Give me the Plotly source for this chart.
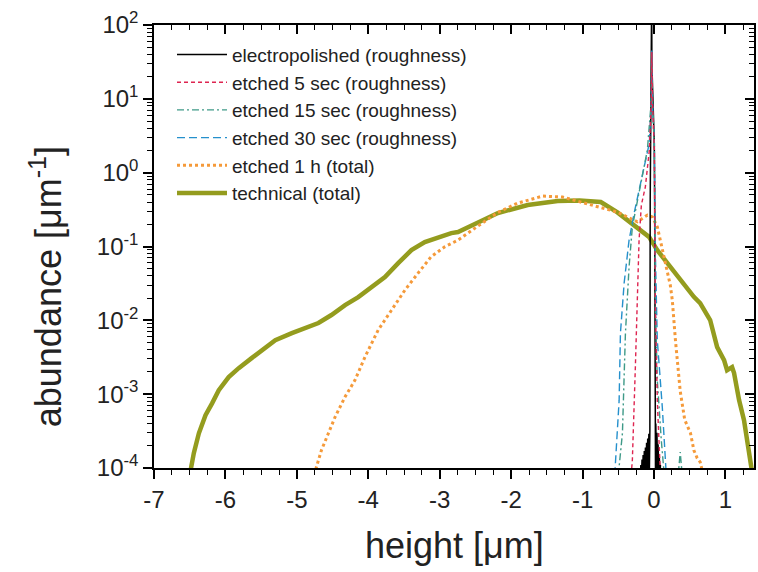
import plotly.graph_objects as go

# ---- height distributions (height in µm, abundance in 1/µm) ----
tech_x = [-6.50, -6.442, -6.372, -6.279, -6.187, -6.093, -5.954, -5.814, -5.633, -5.442,
          -5.302, -5.070, -4.883, -4.698, -4.516, -4.325, -4.140, -3.954, -3.767, -3.581,
          -3.396, -3.209, -3.023, -2.838, -2.744, -2.465, -2.186, -1.768, -1.349, -1.042,
          -0.745, -0.512, -0.275, -0.070, 0.046, 0.186, 0.367, 0.558, 0.646, 0.786, 0.884,
          0.981, 1.023, 1.093, 1.121, 1.191, 1.260, 1.302, 1.344, 1.38]
tech_y = [8e-5, 1.6e-4, 2.95e-4, 5.2e-4, 7.5e-4, 1.13e-3, 1.7e-3, 2.25e-3, 3.08e-3, 4.3e-3,
          5.4e-3, 6.7e-3, 7.8e-3, 9.2e-3, 0.0118, 0.0161, 0.0206, 0.0282, 0.0385, 0.0596,
          0.0893, 0.115, 0.134, 0.152, 0.157, 0.214, 0.284, 0.364, 0.412, 0.420,
          0.400, 0.290, 0.190, 0.135, 0.089, 0.0596, 0.035, 0.0208, 0.0171, 0.0101, 0.00433,
          0.00289, 0.00211, 0.00232, 0.00193, 8.3e-4, 4.45e-4, 2.38e-4, 1.28e-4, 8e-5]

etch1h_x = [-4.76, -4.656, -4.558, -4.465, -4.325, -4.186, -4.046, -3.861, -3.675, -3.488,
            -3.303, -3.121, -2.930, -2.744, -2.465, -2.186, -1.907, -1.558, -1.279, -1.070,
            -0.791, -0.512, -0.233, -0.093, -0.024, 0.046, 0.088, 0.140, 0.209, 0.228,
            0.256, 0.300, 0.367, 0.430, 0.511, 0.558, 0.605, 0.647, 0.69]
etch1h_y = [8e-5, 1.74e-4, 2.96e-4, 4.9e-4, 9.2e-4, 1.55e-3, 3.2e-3, 7.4e-3, 0.0137, 0.0256,
            0.0436, 0.0725, 0.099, 0.122, 0.189, 0.290, 0.387, 0.482, 0.467, 0.412,
            0.352, 0.292, 0.216, 0.266, 0.252, 0.185, 0.122, 0.0725, 0.0388, 0.030,
            0.0188, 5.4e-3, 1.1e-3, 4.5e-4, 2.96e-4, 1.74e-4, 1.36e-4, 1.2e-4, 8e-5]

etch30_x = [-0.55, -0.488, -0.470, -0.418, -0.349, -0.275, -0.163, -0.065, -0.037, -0.030,
            -0.022, 0.005, 0.018, 0.046, 0.116, 0.158, 0.172]
etch30_y = [8e-5, 8.3e-4, 6.7e-3, 0.0319, 0.122, 0.292, 0.927, 2.52, 9.6, 45,
            9.6, 2.52, 0.089, 5.4e-3, 6.7e-4, 1.28e-4, 8e-5]

etch15_x = [-0.50, -0.484, -0.442, -0.400, -0.349, -0.303, -0.205, -0.093, -0.037, -0.030,
            -0.022, 0.005, 0.018, 0.046, 0.102, 0.144, 0.339, 0.367, 0.395]
etch15_y = [8e-5, 1.1e-4, 2.96e-4, 6.7e-3, 0.053, 0.185, 0.58, 2.02, 9.6, 40,
            9.6, 2.02, 0.0188, 1.55e-3, 2.38e-4, 8e-5, 8e-5, 1.64e-4, 8e-5]

etch5_x = [-0.32, -0.303, -0.261, -0.233, -0.209, -0.177, -0.121, -0.065, -0.037, -0.030,
           -0.022, 0.005, 0.018, 0.046, 0.074, 0.090]
etch5_y = [8e-5, 1.28e-4, 2.32e-3, 0.0188, 0.122, 0.364, 0.644, 2.02, 9.6, 43,
           9.6, 2.02, 0.0188, 8.3e-4, 2.38e-4, 8e-5]

# electropolished: noisy low-level tails on both sides of a very sharp peak
ep_left_x = [-0.192, -0.184, -0.176, -0.168, -0.160, -0.152, -0.144, -0.136, -0.128, -0.120,
             -0.112, -0.104, -0.096, -0.088, -0.080, -0.072, -0.064, -0.058]
ep_left_y = [8e-5, 1.1e-4, 7e-5, 1.3e-4, 8e-5, 1.5e-4, 7e-5, 1.7e-4, 8e-5, 1.9e-4,
             7e-5, 2.2e-4, 9e-5, 2.5e-4, 8e-5, 2.9e-4, 1.0e-4, 3.2e-4]
ep_peak_x = [-0.053, -0.050, -0.036, -0.034, -0.032, -0.030, 0.004, 0.009]
ep_peak_y = [0.43, 2.5, 30, 300, 300, 30, 2.5, 0.43]
ep_right_x = [0.011, 0.013, 0.017, 0.021, 0.025, 0.029, 0.033, 0.037, 0.041, 0.045,
              0.049, 0.053, 0.057, 0.061, 0.065, 0.069, 0.073, 0.077, 0.081, 0.085, 0.090]
ep_right_y = [4.9e-4, 9e-5, 4.6e-4, 8e-5, 4.0e-4, 9e-5, 3.5e-4, 8e-5, 3.0e-4, 9e-5,
              2.5e-4, 8e-5, 2.1e-4, 9e-5, 1.8e-4, 8e-5, 1.5e-4, 8e-5, 1.3e-4, 8e-5, 1.1e-4]
ep_x = ep_left_x + ep_peak_x + ep_right_x
ep_y = ep_left_y + ep_peak_y + ep_right_y

# ---- axis ticks ----
x_ticks = [-7, -6, -5, -4, -3, -2, -1, 0, 1]
x_ticklabels = ["-7", "-6", "-5", "-4", "-3", "-2", "-1", "0", "1"]
x_minor = [-7 + 0.25 * i for i in range(34) if i % 4]
y_exponents = [-4, -3, -2, -1, 0, 1, 2]
y_ticks = [10.0 ** e for e in y_exponents]
y_ticklabels = ["10<sup>%d</sup>" % e for e in y_exponents]
y_minor = [k * 10.0 ** e for e in range(-4, 2) for k in range(2, 10)]

FONT = "Liberation Sans, Arial, sans-serif"
AXIS = "black"
TITLE_SIZE = 36
MAJOR = dict(ticklen=9, tickwidth=1.8, tickcolor=AXIS)
MINOR = dict(ticklen=5, tickwidth=1.4, tickcolor=AXIS)

fig = go.Figure()
fig.add_trace(go.Scatter(x=tech_x, y=tech_y, mode="lines", name="technical (total)",
                         line=dict(color="#949c1e", width=4.5), legendrank=6))
fig.add_trace(go.Scatter(x=etch1h_x, y=etch1h_y, mode="lines", name="etched 1 h (total)",
                         line=dict(color="#f59a3a", width=3, dash="dot"), legendrank=5))
fig.add_trace(go.Scatter(x=ep_x, y=ep_y, mode="lines", name="electropolished (roughness)",
                         line=dict(color="black", width=1.5), legendrank=1))
fig.add_trace(go.Scatter(x=etch30_x, y=etch30_y, mode="lines", name="etched 30 sec (roughness)",
                         line=dict(color="#2590cc", width=1.4, dash="8px,4px"), legendrank=4))
fig.add_trace(go.Scatter(x=etch15_x, y=etch15_y, mode="lines", name="etched 15 sec (roughness)",
                         line=dict(color="#3f9a88", width=1.4, dash="7px,3px,2px,3px"), legendrank=3))
fig.add_trace(go.Scatter(x=etch5_x, y=etch5_y, mode="lines", name="etched 5 sec (roughness)",
                         line=dict(color="#de2450", width=1.4, dash="4px,3px"), legendrank=2))
# invisible point that carries the mirrored top/right axes
fig.add_trace(go.Scatter(x=[0], y=[1], xaxis="x2", yaxis="y2", mode="markers",
                         marker=dict(opacity=0), showlegend=False, hoverinfo="skip"))

fig.update_layout(
    width=758, height=572,
    margin=dict(l=154, r=2, t=25, b=104),
    plot_bgcolor="white", paper_bgcolor="white",
    font=dict(family=FONT, size=24, color="#222"),
    showlegend=True,
    legend=dict(x=0.030, y=0.976, xanchor="left", yanchor="top",
                bgcolor="rgba(0,0,0,0)", font=dict(size=19, color="#222"),
                tracegroupgap=0, itemwidth=50),
    xaxis=dict(range=[-7, 1.4], tickmode="array", tickvals=x_ticks, ticktext=x_ticklabels,
               ticks="outside", **MAJOR,
               showline=True, linecolor=AXIS, linewidth=1.5, mirror=True, showgrid=False,
               minor=dict(tickmode="array", tickvals=x_minor, ticks="outside", **MINOR)),
    yaxis=dict(type="log", range=[-4, 2], tickmode="array", tickvals=y_ticks,
               ticktext=y_ticklabels, ticks="outside", **MAJOR,
               showline=True, linecolor=AXIS, linewidth=1.5, mirror=True, showgrid=False,
               minor=dict(tickmode="array", tickvals=y_minor, ticks="outside", **MINOR)),
    xaxis2=dict(overlaying="x", side="top", anchor="y2", range=[-7, 1.4],
                tickmode="linear", tick0=-7, dtick=1, ticks="inside", **MAJOR,
                showticklabels=False, showgrid=False, zeroline=False,
                minor=dict(tickmode="array", tickvals=x_minor, ticks="inside", **MINOR)),
    yaxis2=dict(overlaying="y", side="right", anchor="x2", type="log", range=[-4, 2],
                tickmode="array", tickvals=y_ticks, ticks="inside", **MAJOR,
                showticklabels=False, showgrid=False, zeroline=False,
                minor=dict(tickmode="array", tickvals=y_minor, ticks="inside", **MINOR)),
    annotations=[
        dict(text="height [μm]", xref="paper", yref="paper", x=0.5, y=-0.174,
             xanchor="center", yanchor="middle", showarrow=False,
             font=dict(size=TITLE_SIZE, family=FONT, color="#222")),
        dict(text="abundance [μm<sup>-1</sup>]", xref="paper", yref="paper",
             x=-0.181, y=0.409, xanchor="center", yanchor="middle", textangle=-90,
             showarrow=False, font=dict(size=TITLE_SIZE, family=FONT, color="#222")),
    ],
)

fig.write_html("out.html")
